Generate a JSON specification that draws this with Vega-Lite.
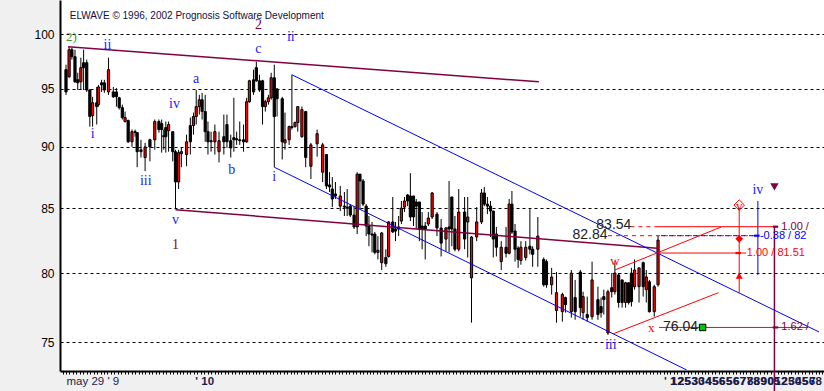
{
"$schema": "https://vega.github.io/schema/vega-lite/v6.json",
"width": 764, "height": 371,
"autosize": {"type": "none"},
"padding": {"left": 60, "top": 0, "right": 0, "bottom": 20},
"background": "#f0f0f0",
"config": {"view": {"fill": "#ffffff", "stroke": null}, "font": "Liberation Sans"},
"datasets": {
"candles": [
{"t":0,"o":96.73,"h":97.18,"l":94.48,"c":94.74},
{"t":0.9,"o":96.09,"h":98.82,"l":96.00,"c":98.55},
{"t":1.7,"o":98.55,"h":98.73,"l":97.64,"c":97.91},
{"t":2.6,"o":97.91,"h":98.55,"l":95.55,"c":95.64},
{"t":3.4,"o":95.82,"h":96.45,"l":94.91,"c":95.55},
{"t":4.3,"o":95.64,"h":97.82,"l":94.91,"c":96.91},
{"t":5.1,"o":97.36,"h":98.55,"l":94.91,"c":96.91},
{"t":6,"o":97.36,"h":97.64,"l":94.74,"c":94.91},
{"t":6.9,"o":94.91,"h":95.00,"l":91.72,"c":92.59},
{"t":7.7,"o":92.67,"h":94.31,"l":91.72,"c":93.79},
{"t":8.9,"o":93.79,"h":95.18,"l":91.90,"c":93.45},
{"t":9.4,"o":93.62,"h":95.36,"l":93.45,"c":95.18},
{"t":10.3,"o":95.55,"h":95.82,"l":94.74,"c":95.36},
{"t":11.1,"o":95.55,"h":95.82,"l":94.66,"c":94.91},
{"t":12.3,"o":94.74,"h":97.82,"l":94.48,"c":96.73},
{"t":13.7,"o":94.74,"h":95.18,"l":94.22,"c":94.31},
{"t":14.6,"o":94.74,"h":95.09,"l":93.45,"c":94.31},
{"t":15.4,"o":94.22,"h":94.31,"l":93.19,"c":93.36},
{"t":16.3,"o":93.36,"h":93.62,"l":92.33,"c":92.50},
{"t":17.1,"o":92.16,"h":93.02,"l":92.07,"c":92.50},
{"t":18,"o":92.24,"h":92.33,"l":90.34,"c":90.43},
{"t":19.1,"o":90.43,"h":91.47,"l":90.00,"c":91.29},
{"t":20,"o":91.29,"h":91.47,"l":90.86,"c":91.21},
{"t":20.6,"o":91.21,"h":91.21,"l":88.31,"c":89.60},
{"t":21.7,"o":89.76,"h":90.60,"l":89.11,"c":89.60},
{"t":22.9,"o":89.11,"h":90.34,"l":87.99,"c":90.00},
{"t":24.3,"o":90.60,"h":90.69,"l":88.79,"c":90.00},
{"t":25.7,"o":90.60,"h":92.33,"l":89.76,"c":92.16},
{"t":26.9,"o":92.16,"h":92.33,"l":91.21,"c":91.47},
{"t":27.7,"o":91.98,"h":92.33,"l":89.52,"c":91.47},
{"t":28.3,"o":90.95,"h":91.47,"l":89.76,"c":90.86},
{"t":28.9,"o":91.64,"h":92.16,"l":89.52,"c":90.86},
{"t":29.7,"o":91.38,"h":92.16,"l":89.60,"c":91.90},
{"t":30.9,"o":91.29,"h":91.29,"l":88.79,"c":89.60},
{"t":31.7,"o":89.60,"h":89.76,"l":84.92,"c":87.10},
{"t":32.6,"o":87.10,"h":89.76,"l":86.53,"c":89.52},
{"t":33.4,"o":89.44,"h":89.92,"l":88.31,"c":89.60},
{"t":34.9,"o":89.36,"h":91.03,"l":88.39,"c":90.43},
{"t":36,"o":91.81,"h":92.50,"l":89.36,"c":90.43},
{"t":36.9,"o":91.81,"h":92.93,"l":91.03,"c":92.59},
{"t":37.7,"o":92.59,"h":94.91,"l":91.90,"c":93.45},
{"t":38.6,"o":93.45,"h":94.48,"l":92.76,"c":94.05},
{"t":39.4,"o":94.05,"h":94.66,"l":92.33,"c":93.02},
{"t":40.3,"o":93.02,"h":94.48,"l":90.43,"c":91.29},
{"t":41.1,"o":91.29,"h":92.16,"l":89.36,"c":90.43},
{"t":42,"o":90.52,"h":91.29,"l":89.60,"c":90.43},
{"t":43.1,"o":90.43,"h":91.90,"l":89.36,"c":91.29},
{"t":44.3,"o":89.60,"h":91.29,"l":88.71,"c":90.52},
{"t":45.7,"o":90.86,"h":92.76,"l":89.36,"c":90.43},
{"t":46.6,"o":91.90,"h":92.76,"l":89.92,"c":90.43},
{"t":47.7,"o":90.52,"h":91.03,"l":89.11,"c":89.92},
{"t":48.6,"o":90.78,"h":94.22,"l":89.60,"c":90.60},
{"t":49.4,"o":90.69,"h":91.29,"l":90.17,"c":90.60},
{"t":50.3,"o":90.60,"h":92.16,"l":90.17,"c":90.52},
{"t":51.4,"o":90.60,"h":91.90,"l":89.60,"c":90.43},
{"t":52.3,"o":90.43,"h":94.22,"l":90.34,"c":93.88},
{"t":53.1,"o":93.88,"h":95.82,"l":93.79,"c":95.73},
{"t":54.3,"o":95.82,"h":96.73,"l":94.48,"c":94.74},
{"t":55.1,"o":96.91,"h":97.45,"l":95.64,"c":95.73},
{"t":56,"o":95.73,"h":96.27,"l":94.74,"c":94.91},
{"t":56.9,"o":95.73,"h":95.82,"l":91.90,"c":93.45},
{"t":57.7,"o":93.45,"h":94.05,"l":93.02,"c":93.88},
{"t":58.6,"o":93.88,"h":94.48,"l":93.62,"c":94.22},
{"t":59.4,"o":94.22,"h":96.45,"l":94.05,"c":96.00},
{"t":60.3,"o":96.00,"h":97.18,"l":88.31,"c":92.59},
{"t":61.1,"o":95.00,"h":95.09,"l":92.59,"c":94.14},
{"t":62.6,"o":94.14,"h":94.31,"l":88.95,"c":90.43},
{"t":63.4,"o":90.34,"h":92.93,"l":89.76,"c":90.60},
{"t":64.6,"o":90.60,"h":91.81,"l":90.17,"c":91.72},
{"t":65.4,"o":91.72,"h":96.27,"l":91.47,"c":91.64},
{"t":66.3,"o":91.72,"h":92.16,"l":91.64,"c":92.07},
{"t":67.1,"o":92.07,"h":93.45,"l":91.29,"c":93.45},
{"t":68.3,"o":90.86,"h":93.45,"l":90.78,"c":93.19},
{"t":69.4,"o":93.02,"h":93.02,"l":88.31,"c":89.11},
{"t":70.9,"o":88.39,"h":90.34,"l":87.34,"c":90.17},
{"t":72.7,"o":90.26,"h":91.47,"l":89.19,"c":91.12},
{"t":74.3,"o":87.90,"h":90.34,"l":87.10,"c":90.17},
{"t":75.4,"o":89.36,"h":89.36,"l":86.53,"c":86.78},
{"t":76.3,"o":86.86,"h":87.90,"l":86.29,"c":86.70},
{"t":77.1,"o":86.53,"h":87.50,"l":85.08,"c":85.73},
{"t":78,"o":86.13,"h":87.10,"l":85.73,"c":85.97},
{"t":79.4,"o":85.16,"h":86.78,"l":84.77,"c":85.97},
{"t":80.6,"o":85.16,"h":86.29,"l":84.38,"c":85.08},
{"t":81.4,"o":85.08,"h":86.53,"l":84.38,"c":85.00},
{"t":82.3,"o":85.16,"h":85.32,"l":84.30,"c":84.45},
{"t":83.4,"o":84.45,"h":85.16,"l":83.36,"c":83.52},
{"t":84.3,"o":83.52,"h":87.90,"l":82.97,"c":87.74},
{"t":85.1,"o":87.74,"h":87.74,"l":84.92,"c":87.18},
{"t":86,"o":87.18,"h":87.34,"l":85.16,"c":85.32},
{"t":86.9,"o":85.16,"h":85.32,"l":82.81,"c":83.59},
{"t":87.7,"o":83.59,"h":84.38,"l":82.03,"c":82.97},
{"t":88.6,"o":82.97,"h":83.91,"l":81.56,"c":82.89},
{"t":89.4,"o":82.97,"h":83.13,"l":81.41,"c":81.56},
{"t":90.3,"o":81.56,"h":82.81,"l":81.02,"c":81.72},
{"t":91.4,"o":80.78,"h":83.13,"l":80.23,"c":83.05},
{"t":92.6,"o":81.17,"h":81.80,"l":80.47,"c":80.70},
{"t":93.4,"o":81.25,"h":83.98,"l":81.17,"c":83.91},
{"t":94.6,"o":83.91,"h":85.89,"l":83.05,"c":83.13},
{"t":95.4,"o":83.36,"h":83.91,"l":82.42,"c":83.20},
{"t":96.3,"o":83.52,"h":84.38,"l":82.81,"c":83.36},
{"t":97.1,"o":83.98,"h":85.57,"l":83.75,"c":85.00},
{"t":98,"o":85.08,"h":85.89,"l":84.69,"c":85.57},
{"t":98.9,"o":86.05,"h":86.13,"l":85.16,"c":85.57},
{"t":99.7,"o":85.97,"h":87.82,"l":83.98,"c":84.30},
{"t":100.6,"o":85.97,"h":85.97,"l":83.59,"c":84.30},
{"t":101.4,"o":85.49,"h":85.73,"l":83.36,"c":85.16},
{"t":102.3,"o":85.49,"h":85.49,"l":82.42,"c":83.36},
{"t":103.1,"o":83.59,"h":84.69,"l":81.80,"c":83.36},
{"t":104,"o":83.59,"h":83.91,"l":81.02,"c":83.36},
{"t":104.9,"o":83.75,"h":84.69,"l":83.59,"c":84.22},
{"t":106,"o":84.30,"h":86.29,"l":84.14,"c":86.21},
{"t":107.4,"o":84.53,"h":84.69,"l":82.81,"c":83.44},
{"t":108.6,"o":83.44,"h":84.14,"l":81.25,"c":82.27},
{"t":110,"o":82.58,"h":83.52,"l":81.64,"c":83.44},
{"t":110.9,"o":83.52,"h":87.18,"l":81.56,"c":83.36},
{"t":111.7,"o":85.89,"h":85.89,"l":82.03,"c":83.36},
{"t":112.6,"o":83.36,"h":84.38,"l":81.64,"c":81.80},
{"t":113.7,"o":81.80,"h":86.53,"l":81.64,"c":84.69},
{"t":115.4,"o":84.69,"h":85.89,"l":81.80,"c":82.58},
{"t":116.3,"o":83.91,"h":85.89,"l":81.17,"c":84.30},
{"t":117.4,"o":79.64,"h":82.81,"l":76.38,"c":82.74},
{"t":118.9,"o":82.74,"h":85.08,"l":82.42,"c":83.91},
{"t":120.3,"o":83.91,"h":86.53,"l":83.75,"c":86.21},
{"t":121.1,"o":86.21,"h":86.70,"l":85.16,"c":85.32},
{"t":122,"o":85.32,"h":85.89,"l":84.53,"c":85.16},
{"t":122.9,"o":85.16,"h":85.57,"l":82.74,"c":84.77},
{"t":123.7,"o":84.77,"h":84.77,"l":81.17,"c":82.58},
{"t":124.6,"o":82.97,"h":83.52,"l":81.25,"c":81.95},
{"t":126,"o":80.86,"h":82.42,"l":80.23,"c":81.95},
{"t":127.4,"o":81.95,"h":83.52,"l":81.17,"c":81.49},
{"t":128.3,"o":81.49,"h":85.73,"l":81.41,"c":85.32},
{"t":129.1,"o":85.32,"h":86.37,"l":82.97,"c":83.13},
{"t":130,"o":83.20,"h":83.75,"l":80.86,"c":81.80},
{"t":130.9,"o":81.88,"h":82.03,"l":80.39,"c":81.02},
{"t":131.7,"o":80.94,"h":82.42,"l":80.63,"c":81.95},
{"t":133.1,"o":81.17,"h":82.42,"l":80.94,"c":81.95},
{"t":134.3,"o":82.03,"h":84.92,"l":81.41,"c":81.80},
{"t":135.1,"o":81.80,"h":82.03,"l":80.47,"c":81.41},
{"t":136.6,"o":81.80,"h":84.30,"l":80.47,"c":82.81},
{"t":138.3,"o":81.02,"h":81.17,"l":78.99,"c":79.13},
{"t":139.1,"o":80.86,"h":81.02,"l":78.91,"c":79.13},
{"t":140.6,"o":79.13,"h":80.39,"l":78.41,"c":79.71},
{"t":142,"o":77.25,"h":80.08,"l":76.38,"c":78.55},
{"t":143.7,"o":77.17,"h":78.55,"l":76.45,"c":78.41},
{"t":144.6,"o":78.19,"h":78.26,"l":77.10,"c":77.68},
{"t":146.3,"o":77.17,"h":80.23,"l":76.74,"c":80.00},
{"t":147.4,"o":78.19,"h":79.49,"l":76.59,"c":77.17},
{"t":148.9,"o":80.08,"h":80.23,"l":76.81,"c":77.46},
{"t":149.7,"o":77.10,"h":78.62,"l":76.59,"c":78.26},
{"t":150.9,"o":76.96,"h":78.26,"l":76.45,"c":76.74},
{"t":152.3,"o":76.81,"h":80.86,"l":76.59,"c":79.49},
{"t":154,"o":78.04,"h":78.99,"l":76.59,"c":76.96},
{"t":154.9,"o":77.54,"h":78.19,"l":76.74,"c":77.10},
{"t":155.7,"o":78.26,"h":78.77,"l":76.96,"c":78.04},
{"t":156.9,"o":75.65,"h":78.77,"l":75.51,"c":78.62},
{"t":158,"o":78.91,"h":80.00,"l":78.19,"c":78.62},
{"t":158.9,"o":78.62,"h":80.78,"l":78.41,"c":80.00},
{"t":160,"o":79.86,"h":80.00,"l":77.46,"c":77.83},
{"t":161,"o":79.49,"h":79.49,"l":77.46,"c":77.83},
{"t":162,"o":77.83,"h":79.35,"l":77.46,"c":79.28},
{"t":162.9,"o":79.28,"h":79.28,"l":77.68,"c":77.83},
{"t":163.7,"o":80.00,"h":80.39,"l":77.54,"c":77.90},
{"t":164.6,"o":78.99,"h":81.02,"l":78.77,"c":80.23},
{"t":165.9,"o":78.99,"h":80.39,"l":77.83,"c":80.39},
{"t":167.1,"o":80.78,"h":80.86,"l":78.26,"c":78.99},
{"t":168,"o":78.77,"h":80.23,"l":77.83,"c":79.71},
{"t":168.9,"o":79.35,"h":79.49,"l":77.10,"c":77.17},
{"t":170.3,"o":77.17,"h":79.13,"l":76.81,"c":78.99},
{"t":171.4,"o":79.13,"h":82.84,"l":78.99,"c":82.50}
],
"lines": [
{"set":"trend","t":0.6,"p":98.82,"t2":136.9,"p2":95.64},
{"set":"trend","t":31.7,"p":84.88,"t2":171.1,"p2":81.88},
{"set":"trend","t":205.1,"p":83.54,"t2":205.1,"p2":71.6},
{"set":"channel","t":60.3,"p":88.31,"t2":179.7,"p2":73.08},
{"set":"channel","t":65.4,"p":96.27,"t2":218,"p2":75.72},
{"set":"channel","t":200.3,"p":85.57,"t2":200.3,"p2":79.86},
{"set":"target","t":158.9,"p":80.23,"t2":189.7,"p2":83.52},
{"set":"target","t":158.3,"p":75.58,"t2":188.9,"p2":78.55},
{"set":"target","t":171.1,"p":83.54,"t2":205.4,"p2":83.54},
{"set":"target","t":171.7,"p":81.51,"t2":196.9,"p2":81.51},
{"set":"target","t":171.7,"p":76.04,"t2":214.9,"p2":76.04},
{"set":"target","t":194.9,"p":84.9,"t2":194.9,"p2":78.55},
{"set":"targetDash","t":163.4,"p":83.54,"t2":171.1,"p2":83.54},
{"set":"targetDash","t":156.9,"p":82.84,"t2":199.7,"p2":82.84},
{"set":"channelDash","t":171.1,"p":82.84,"t2":199.7,"p2":82.84}
],
"marks": [
{"t":184.3,"p":76.04,"kind":"green"},
{"t":205.4,"p":83.54,"kind":"maroonBar"},
{"t":205.4,"p":76.04,"kind":"maroonBar"},
{"t":200,"p":82.84,"kind":"blueBar"},
{"t":194.6,"p":81.51,"kind":"redBar"},
{"t":194.9,"p":82.6,"kind":"redDiamond"},
{"t":194.9,"p":79.8,"kind":"redUp"},
{"t":205.1,"p":86.7,"kind":"maroonDown"},
{"t":194.9,"p":85.24,"kind":"redRing"}
],
"labels": [
{"t":12,"p":99.0,"text":"ii","kind":"wave"},
{"t":7.7,"p":91.12,"text":"i","kind":"wave"},
{"t":23.1,"p":87.18,"text":"iii","kind":"wave"},
{"t":31.4,"p":93.71,"text":"iv","kind":"wave"},
{"t":37.7,"p":95.91,"text":"a","kind":"wave"},
{"t":31.7,"p":84.06,"text":"v","kind":"wave"},
{"t":48,"p":88.07,"text":"b","kind":"wave"},
{"t":55.7,"p":98.64,"text":"c","kind":"wave"},
{"t":60.3,"p":87.5,"text":"i","kind":"wave"},
{"t":65.1,"p":99.73,"text":"ii","kind":"wave"},
{"t":157.7,"p":74.78,"text":"iii","kind":"wave"},
{"t":200.3,"p":86.45,"text":"iv","kind":"wave"},
{"t":31.7,"p":82.11,"text":"1","kind":"degree"},
{"t":55.7,"p":100.84,"text":"2","kind":"degree"},
{"t":158.9,"p":80.94,"text":"w","kind":"minor"},
{"t":169.4,"p":76.0,"text":"x","kind":"minor"},
{"t":194.9,"p":85.2,"text":"v","kind":"minor"},
{"t":0,"p":99.73,"text":"2)","kind":"major"},
{"t":158.6,"p":83.67,"text":"83.54","kind":"level"},
{"t":151.7,"p":82.89,"text":"82.84","kind":"level"},
{"t":177.9,"p":76.04,"text":"76.04","kind":"level"},
{"t":197.1,"p":81.51,"text":"1.00 / 81.51","kind":"ratioRed"},
{"t":207.1,"p":83.54,"text":"1.00 /","kind":"ratioMaroon"},
{"t":207.1,"p":76.04,"text":"1.62 /","kind":"ratioMaroon"},
{"t":200.9,"p":82.84,"text":"-0.38 / 82","kind":"ratioBlue"},
{"t":1.1,"p":101.69,"text":"ELWAVE © 1996, 2002 Prognosis Software Development","kind":"title"}
]
},
"layer": [
{
"data": {"name": "candles"},
"mark": {"type": "rule", "color": "#000000", "strokeWidth": 1},
"encoding": {
"x": {"field": "t", "type": "quantitative", "title": null,
"scale": {"domain": [-0.29, 218], "nice": false, "zero": false},
"axis": {"orient": "bottom", "tickCount": 218, "grid": false, "domainColor": "#000000", "domainWidth": 2,
"tickColor": "#000000", "tickSize": 3, "tickWidth": 1, "labelOverlap": false, "labelFlush": false, "labelPadding": 1,
"labelFont": "Liberation Sans", "labelFontSize": 11.5, "labelColor": "#1c1c4c",
"labelAlign": {"condition": {"test": "datum.value == 40", "value": "center"}, "value": "left"},
"labelFontWeight": {"condition": {"test": "datum.value >= 40", "value": "bold"}, "value": "normal"},
"labelExpr": "[\"may 29 ' 9\",\"' 10\",\"' 1\",\"12\",\"25\",\"53\",\"30\",\"34\",\"45\",\"56\",\"65\",\"56\",\"67\",\"77\",\"88\",\"89\",\"90\",\"05\",\"12\",\"25\",\"30\",\"45\",\"56\",\"78\"][indexof([0,40,173,175,177,179,181,183,185,187,189,191,193,195,197,199,201,203,205,207,209,211,213,215], datum.value)] || ''"}},
"y": {"field": "l", "type": "quantitative", "title": null,
"scale": {"type": "log", "domain": [73.01, 103.23], "nice": false, "zero": false},
"axis": {"values": [75, 80, 85, 90, 95, 100], "grid": true, "gridColor": "#000000", "gridDash": [3, 3], "gridWidth": 1, "gridOpacity": 1,
"ticks": false, "domainColor": "#000000", "domainWidth": 2, "labelFont": "Liberation Sans", "labelFontSize": 12, "labelColor": "#000000", "labelPadding": 6, "format": "d"}},
"y2": {"field": "h"}
}
},
{
"data": {"name": "candles"},
"mark": {"type": "bar", "width": 2.2, "stroke": "#000000", "strokeWidth": 1},
"encoding": {
"x": {"field": "t", "type": "quantitative", "title": null},
"y": {"field": "o", "type": "quantitative", "title": null},
"y2": {"field": "c"},
"fill": {"condition": {"test": "datum.c > datum.o", "value": "#ff0000"}, "value": "#000000"}
}
},
{
"data": {"name": "lines"},
"transform": [{"filter": "datum.set == 'trend'"}],
"mark": {"type": "rule", "color": "#800040", "strokeWidth": 1.5},
"encoding": {"x": {"field": "t", "type": "quantitative", "title": null}, "x2": {"field": "t2"}, "y": {"field": "p", "type": "quantitative", "title": null}, "y2": {"field": "p2"}}
},
{
"data": {"name": "lines"},
"transform": [{"filter": "datum.set == 'channel'"}],
"mark": {"type": "rule", "color": "#0000ff", "strokeWidth": 1},
"encoding": {"x": {"field": "t", "type": "quantitative", "title": null}, "x2": {"field": "t2"}, "y": {"field": "p", "type": "quantitative", "title": null}, "y2": {"field": "p2"}}
},
{
"data": {"name": "lines"},
"transform": [{"filter": "datum.set == 'target'"}],
"mark": {"type": "rule", "color": "#ff0000", "strokeWidth": 1},
"encoding": {"x": {"field": "t", "type": "quantitative", "title": null}, "x2": {"field": "t2"}, "y": {"field": "p", "type": "quantitative", "title": null}, "y2": {"field": "p2"}}
},
{
"data": {"name": "lines"},
"transform": [{"filter": "datum.set == 'targetDash'"}],
"mark": {"type": "rule", "color": "#ff0000", "strokeWidth": 1, "strokeDash": [4, 4]},
"encoding": {"x": {"field": "t", "type": "quantitative", "title": null}, "x2": {"field": "t2"}, "y": {"field": "p", "type": "quantitative", "title": null}, "y2": {"field": "p2"}}
},
{
"data": {"name": "lines"},
"transform": [{"filter": "datum.set == 'channelDash'"}],
"mark": {"type": "rule", "color": "#0000ff", "strokeWidth": 1, "strokeDash": [4, 4], "strokeDashOffset": 4},
"encoding": {"x": {"field": "t", "type": "quantitative", "title": null}, "x2": {"field": "t2"}, "y": {"field": "p", "type": "quantitative", "title": null}, "y2": {"field": "p2"}}
},
{
"data": {"name": "marks"},
"transform": [{"filter": "datum.kind == 'green'"}],
"mark": {"type": "point", "shape": "square", "filled": true, "fill": "#00c800", "stroke": "#000000", "strokeWidth": 1, "size": 42, "opacity": 1},
"encoding": {"x": {"field": "t", "type": "quantitative", "title": null}, "y": {"field": "p", "type": "quantitative", "title": null}}
},
{
"data": {"name": "marks"},
"transform": [{"filter": "datum.kind == 'maroonBar'"}],
"mark": {"type": "point", "shape": "M-1,-0.4H1V0.4H-1Z", "filled": true, "fill": "#800040", "strokeWidth": 0, "size": 30, "opacity": 1},
"encoding": {"x": {"field": "t", "type": "quantitative", "title": null}, "y": {"field": "p", "type": "quantitative", "title": null}}
},
{
"data": {"name": "marks"},
"transform": [{"filter": "datum.kind == 'blueBar'"}],
"mark": {"type": "point", "shape": "M-1,-0.4H1V0.4H-1Z", "filled": true, "fill": "#0000ff", "strokeWidth": 0, "size": 30, "opacity": 1},
"encoding": {"x": {"field": "t", "type": "quantitative", "title": null}, "y": {"field": "p", "type": "quantitative", "title": null}}
},
{
"data": {"name": "marks"},
"transform": [{"filter": "datum.kind == 'redBar'"}],
"mark": {"type": "point", "shape": "M-1,-0.4H1V0.4H-1Z", "filled": true, "fill": "#ff0000", "strokeWidth": 0, "size": 30, "opacity": 1},
"encoding": {"x": {"field": "t", "type": "quantitative", "title": null}, "y": {"field": "p", "type": "quantitative", "title": null}}
},
{
"data": {"name": "marks"},
"transform": [{"filter": "datum.kind == 'redDiamond'"}],
"mark": {"type": "point", "shape": "diamond", "filled": true, "fill": "#ff0000", "strokeWidth": 0, "size": 60, "opacity": 1},
"encoding": {"x": {"field": "t", "type": "quantitative", "title": null}, "y": {"field": "p", "type": "quantitative", "title": null}}
},
{
"data": {"name": "marks"},
"transform": [{"filter": "datum.kind == 'redUp'"}],
"mark": {"type": "point", "shape": "triangle-up", "filled": true, "fill": "#ff0000", "strokeWidth": 0, "size": 50, "opacity": 1},
"encoding": {"x": {"field": "t", "type": "quantitative", "title": null}, "y": {"field": "p", "type": "quantitative", "title": null}}
},
{
"data": {"name": "marks"},
"transform": [{"filter": "datum.kind == 'maroonDown'"}],
"mark": {"type": "point", "shape": "triangle-down", "filled": true, "fill": "#800040", "strokeWidth": 0, "size": 70, "opacity": 1},
"encoding": {"x": {"field": "t", "type": "quantitative", "title": null}, "y": {"field": "p", "type": "quantitative", "title": null}}
},
{
"data": {"name": "marks"},
"transform": [{"filter": "datum.kind == 'redRing'"}],
"mark": {"type": "point", "shape": "diamond", "filled": false, "stroke": "#ff0000", "strokeWidth": 1, "size": 110, "opacity": 1},
"encoding": {"x": {"field": "t", "type": "quantitative", "title": null}, "y": {"field": "p", "type": "quantitative", "title": null}}
},
{
"data": {"name": "labels"},
"transform": [{"filter": "datum.kind == 'wave'"}],
"mark": {"type": "text", "font": "Liberation Serif", "fontSize": 14, "color": "#2323ff", "align": "center", "baseline": "middle"},
"encoding": {"x": {"field": "t", "type": "quantitative", "title": null}, "y": {"field": "p", "type": "quantitative", "title": null}, "text": {"field": "text"}}
},
{
"data": {"name": "labels"},
"transform": [{"filter": "datum.kind == 'degree'"}],
"mark": {"type": "text", "font": "Liberation Serif", "fontSize": 14, "color": "#800040", "align": "center", "baseline": "middle"},
"encoding": {"x": {"field": "t", "type": "quantitative", "title": null}, "y": {"field": "p", "type": "quantitative", "title": null}, "text": {"field": "text"}}
},
{
"data": {"name": "labels"},
"transform": [{"filter": "datum.kind == 'minor'"}],
"mark": {"type": "text", "font": "Liberation Serif", "fontSize": 13, "color": "#ff0000", "align": "center", "baseline": "middle"},
"encoding": {"x": {"field": "t", "type": "quantitative", "title": null}, "y": {"field": "p", "type": "quantitative", "title": null}, "text": {"field": "text"}}
},
{
"data": {"name": "labels"},
"transform": [{"filter": "datum.kind == 'major'"}],
"mark": {"type": "text", "font": "Liberation Serif", "fontSize": 13, "color": "#3c9a3c", "align": "left", "baseline": "middle"},
"encoding": {"x": {"field": "t", "type": "quantitative", "title": null}, "y": {"field": "p", "type": "quantitative", "title": null}, "text": {"field": "text"}}
},
{
"data": {"name": "labels"},
"transform": [{"filter": "datum.kind == 'level'"}],
"mark": {"type": "text", "font": "Liberation Sans", "fontSize": 14, "color": "#202020", "align": "center", "baseline": "middle"},
"encoding": {"x": {"field": "t", "type": "quantitative", "title": null}, "y": {"field": "p", "type": "quantitative", "title": null}, "text": {"field": "text"}}
},
{
"data": {"name": "labels"},
"transform": [{"filter": "datum.kind == 'ratioRed'"}],
"mark": {"type": "text", "font": "Liberation Sans", "fontSize": 11, "color": "#ff0000", "align": "left", "baseline": "middle"},
"encoding": {"x": {"field": "t", "type": "quantitative", "title": null}, "y": {"field": "p", "type": "quantitative", "title": null}, "text": {"field": "text"}}
},
{
"data": {"name": "labels"},
"transform": [{"filter": "datum.kind == 'ratioMaroon'"}],
"mark": {"type": "text", "font": "Liberation Sans", "fontSize": 11, "color": "#800040", "align": "left", "baseline": "middle"},
"encoding": {"x": {"field": "t", "type": "quantitative", "title": null}, "y": {"field": "p", "type": "quantitative", "title": null}, "text": {"field": "text"}}
},
{
"data": {"name": "labels"},
"transform": [{"filter": "datum.kind == 'ratioBlue'"}],
"mark": {"type": "text", "font": "Liberation Sans", "fontSize": 11, "color": "#0000ff", "align": "left", "baseline": "middle"},
"encoding": {"x": {"field": "t", "type": "quantitative", "title": null}, "y": {"field": "p", "type": "quantitative", "title": null}, "text": {"field": "text"}}
},
{
"data": {"name": "labels"},
"transform": [{"filter": "datum.kind == 'title'"}],
"mark": {"type": "text", "font": "Liberation Sans", "fontSize": 10, "color": "#101040", "align": "left", "baseline": "middle"},
"encoding": {"x": {"field": "t", "type": "quantitative", "title": null}, "y": {"field": "p", "type": "quantitative", "title": null}, "text": {"field": "text"}}
}
]
}
